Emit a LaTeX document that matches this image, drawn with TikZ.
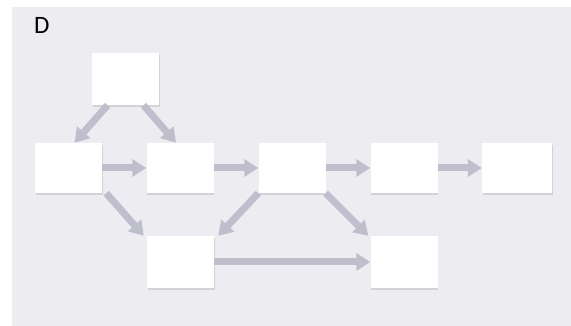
\documentclass[tikz,border=0pt]{standalone}
\usepackage{fontspec}
\setmainfont{Carlito}
\usetikzlibrary{arrows.meta,calc,shadows}
\definecolor{bgc}{HTML}{ECECF1}
\definecolor{arc}{HTML}{BEBECD}
\tikzset{
  box/.style={fill=white,draw=none,minimum width=67pt,minimum height=50pt,inner sep=0pt,
    drop shadow={shadow xshift=0.6pt,shadow yshift=-1.6pt,fill=black!35,opacity=0.35}},
  arr/.style={draw=arc,line width=7pt,-{Triangle[width=17pt,length=14pt]}}
}
\begin{document}
\begin{tikzpicture}[x=1pt,y=-1pt]
\useasboundingbox (0,0) rectangle (571,326);
\fill[white] (0,0) rectangle (571,326);
\fill[bgc] (12,7) rectangle (571,326);
\node[anchor=base west,inner sep=0pt,font=\fontsize{25}{25}\selectfont] (lbl) at (34,34) {D};
\node[box,minimum height=52pt] (t) at (125.5,79) {};
\node[box] (a) at (68.5,168) {};
\node[box] (b) at (180,168) {};
\node[box] (c) at (292,168) {};
\node[box] (d) at (404,168) {};
\node[box,minimum width=70pt] (e) at (517,168) {};
\node[box,minimum height=52pt] (f) at (180.5,262) {};
\node[box,minimum height=52pt] (g) at (404,262) {};
\draw[arr] ($(t.south)+(-18,0)$) -- ($(a.north)+(6,0)$);
\draw[arr] ($(t.south)+(18,0)$) -- ($(b.north)+(-4,0)$);
\draw[arr] (a.east) -- (b.west);
\draw[arr] (b.east) -- (c.west);
\draw[arr] (c.east) -- (d.west);
\draw[arr] (d.east) -- (e.west);
\draw[arr] ($(a.south east)+(4,0)$) -- ($(f.north west)+(-3,0)$);
\draw[arr] (c.south west) -- ($(f.north east)+(4,0)$);
\draw[arr] (c.south east) -- ($(g.north west)+(-2,0)$);
\draw[arr] (f.east) -- (g.west);
\end{tikzpicture}
\end{document}
